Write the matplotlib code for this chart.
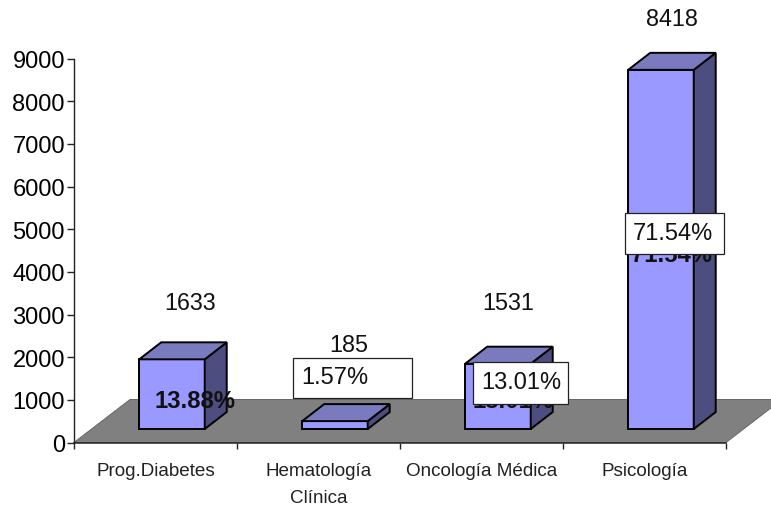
import matplotlib
matplotlib.use("Agg")
import matplotlib.pyplot as plt
from matplotlib.patches import Polygon, Rectangle

plt.rcParams["font.family"] = ["Liberation Sans", "DejaVu Sans"]

categories = ["Prog.Diabetes", "Hematología\nClínica", "Oncología Médica", "Psicología"]
counts = [1633, 185, 1531, 8418]
percents = ["13.88%", "1.57%", "13.01%", "71.54%"]
y_ticks = [0, 1000, 2000, 3000, 4000, 5000, 6000, 7000, 8000, 9000]

W, H = 771, 506
fig = plt.figure(figsize=(W / 100, H / 100), dpi=100)
ax = fig.add_axes([74 / W, 1 - 443.5 / H, 652 / W, 384 / H])
ax.set_xlim(0, 4)
ax.set_ylim(0, 9000)

# size of one pixel in data units
px_x = 4 / 652
px_y = 9000 / 384


# reference pixel position -> figure coords
def pix(x, y):
    return x / W, 1 - y / H


# floor of the 3d box
floor = Polygon(
    [(0, 0), (4, 0), (4 + 56 * px_x, 43 * px_y), (56 * px_x, 43 * px_y)],
    facecolor="#808080", edgecolor="#666666", linewidth=0.7, clip_on=False, zorder=1,
)
ax.add_patch(floor)
ax.plot([0, 4], [0, 0], color="#222222", linewidth=1.1, clip_on=False, zorder=2)

# bars
lift = 13.5 * px_y
width = 0.402
dx = 22 * px_x
dy = 17 * px_y
front_col = "#9999FF"
top_col = "#7A7ABF"
side_col = "#4D4D80"
for i, v in enumerate(counts):
    left = i + 0.4
    right = left + width
    top = lift + v
    ax.bar(left, v, width=width, bottom=lift, align="edge", color=front_col,
           edgecolor="black", linewidth=1.4, zorder=3, clip_on=False)
    ax.add_patch(Polygon([(right, lift), (right + dx, lift + dy), (right + dx, top + dy), (right, top)],
                         facecolor=side_col, edgecolor="black", linewidth=1.4, zorder=3, clip_on=False))
    ax.add_patch(Polygon([(left, top), (right, top), (right + dx, top + dy), (left + dx, top + dy)],
                         facecolor=top_col, edgecolor="black", linewidth=1.4, zorder=3, clip_on=False))

# axes
for s in ["top", "right", "bottom"]:
    ax.spines[s].set_visible(False)
ax.spines["left"].set_linewidth(1.0)
ax.spines["left"].set_color("#222222")
ax.set_yticks(y_ticks)
ax.tick_params(axis="y", labelsize=17, length=5, width=1.0, pad=1.5, color="#222222")
ax.set_xticks(range(5))
ax.set_xticklabels([])
ax.tick_params(axis="x", which="major", length=4, width=1.0, color="#222222")
ax.set_xticks([i + 0.5 for i in range(4)], minor=True)
ax.set_xticklabels(categories, minor=True, fontsize=13.6, linespacing=1.75, color="#222222")
ax.tick_params(axis="x", which="minor", length=0, pad=14)

# count labels above the bars
count_pos = [(190, 303), (349, 346), (508, 303), (672, 19)]
for v, (x, y) in zip(counts, count_pos):
    fig.text(*pix(x, y), str(v), fontsize=16.8, ha="center", va="center", color="#111111", zorder=5)

# bold percent labels, the others are partly hidden by the white boxes
bold_pos = [(195, 402), None, (513, 402), (672, 256)]
for p, pos in zip(percents, bold_pos):
    if pos is None:
        continue
    ax.text(*ax.transAxes.inverted().transform(fig.transFigure.transform(pix(*pos))), p,
            transform=ax.transAxes, fontsize=17.2, fontweight="bold", ha="center", va="center",
            color="#111111", zorder=6, clip_on=False)

# white boxes
box_pos = [(293, 359, 119, 40), (473, 363, 95, 42), (625, 214, 99, 41)]
box_text = [percents[1], percents[2], percents[3]]
for p, (x, y, w, h) in zip(box_text, box_pos):
    fx, fy = pix(x, y + h)
    fig.add_artist(Rectangle((fx, fy), w / W, h / H, transform=fig.transFigure,
                             facecolor="white", edgecolor="#222222", linewidth=0.9, zorder=7))
    fig.text(*pix(x + 8, y + h / 2 - 1), p, fontsize=17, ha="left", va="center", color="#111111", zorder=8)

fig.savefig("out.png", dpi=100)
